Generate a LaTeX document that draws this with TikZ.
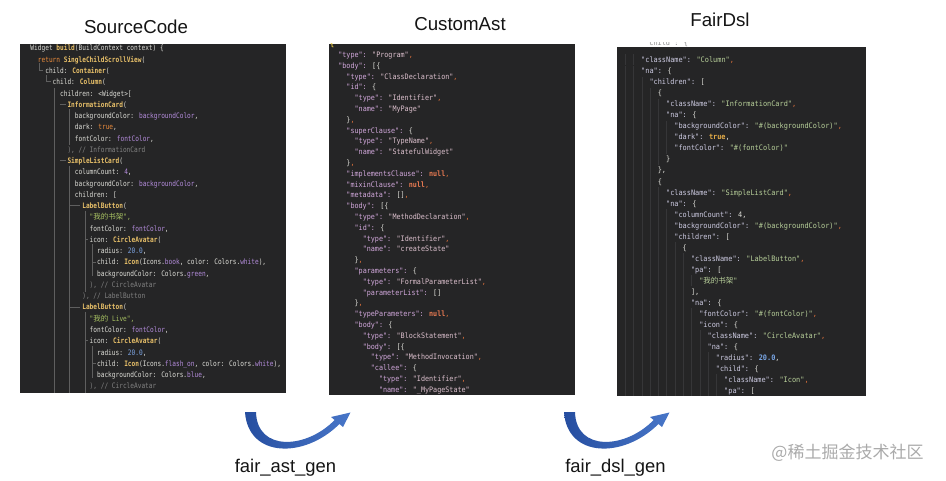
\documentclass[tikz,border=0pt]{standalone}
\usepackage{fontspec}
\setmainfont{Liberation Sans}
\newfontfamily\cjkf{Noto Sans CJK SC}
\newfontfamily\codeA[FakeStretch=0.82,Ligatures=TeXOff]{DejaVu Sans Mono}
\newfontfamily\codeB[FakeStretch=0.90,Ligatures=TeXOff]{DejaVu Sans Mono}
\newfontfamily\codeC[FakeStretch=0.92,Ligatures=TeXOff]{DejaVu Sans Mono}
\definecolor{panelbg}{RGB}{37,37,38}
\definecolor{cfg}{RGB}{222,222,216}
\definecolor{cyel}{RGB}{232,192,105}
\definecolor{corg}{RGB}{236,140,60}
\definecolor{cpur}{RGB}{180,140,220}
\definecolor{ccom}{RGB}{130,130,130}
\definecolor{cstr}{RGB}{168,194,98}
\definecolor{cnum}{RGB}{125,165,228}
\definecolor{cguide}{RGB}{95,95,95}
\definecolor{jkey}{RGB}{210,168,220}
\definecolor{jstr}{RGB}{220,192,205}
\definecolor{jnull}{RGB}{232,122,82}
\definecolor{jcom}{RGB}{225,115,60}
\definecolor{jbrace}{RGB}{235,205,70}
\definecolor{rkey}{RGB}{205,203,226}
\definecolor{rstr}{RGB}{184,208,154}
\definecolor{rtrue}{RGB}{228,172,72}
\definecolor{rnum}{RGB}{122,168,232}
\definecolor{rguide}{RGB}{54,54,56}
\definecolor{cutgray}{RGB}{140,140,140}
\definecolor{arrowdark}{RGB}{38,78,160}
\definecolor{arrowlight}{RGB}{72,118,200}
\definecolor{wmark}{RGB}{170,170,170}
\definecolor{titlecol}{RGB}{20,20,20}
% colour helpers
\newcommand\cdY[1]{\textcolor{cyel}{\bfseries #1}}
\newcommand\cdO[1]{\textcolor{corg}{#1}}
\newcommand\cdP[1]{\textcolor{cpur}{#1}}
\newcommand\cdC[1]{\textcolor{ccom}{#1}}
\newcommand\cdS[1]{\textcolor{cstr}{#1}}
\newcommand\cdN[1]{\textcolor{cnum}{#1}}
\newcommand\jK[1]{\textcolor{jkey}{#1}}
\newcommand\jS[1]{\textcolor{jstr}{#1}}
\newcommand\jN[1]{\textcolor{jnull}{\bfseries #1}}
\newcommand\jO[1]{\textcolor{jcom}{#1}}
\newcommand\rK[1]{\textcolor{rkey}{#1}}
\newcommand\rS[1]{\textcolor{rstr}{#1}}
\newcommand\rT[1]{\textcolor{rtrue}{\bfseries #1}}
\newcommand\rN[1]{\textcolor{rnum}{\bfseries #1}}
\newcounter{cdl}
\newcommand\cdLA[3]{\stepcounter{cdl}\node[codeL] (t\the\value{cdl}) at ({30.3+3.7*#1},{51+11.26*(#2-1)}) {#3};}
\newcommand\cdMA[3]{\stepcounter{cdl}\node[codeM] (t\the\value{cdl}) at ({330+4.07*#1},{57.5+10.8*(#2-2)}) {#3};}
\newcommand\cdRA[3]{\stepcounter{cdl}\node[codeR] (t\the\value{cdl}) at ({641+4.15*#1},{62.7+11.03*(#2-1)}) {#3};}
\newcommand\ycL[1]{(48+11.26*(#1-1))}
\begin{document}
\begin{tikzpicture}[x=1pt,y=-1pt,
  panel/.style={anchor=north west, fill=panelbg, draw=none, inner sep=0pt, outer sep=0pt},
  codeL/.style={anchor=base west, inner sep=0pt, text=cfg, font=\codeA\fontsize{7.5}{9}\selectfont},
  codeM/.style={anchor=base west, inner sep=0pt, text=cfg, font=\codeB\fontsize{7.5}{9}\selectfont},
  codeR/.style={anchor=base west, inner sep=0pt, text=cfg, font=\codeC\fontsize{7.5}{9}\selectfont},
  guideL/.style={draw=cguide, line width=0.7pt},
  guideR/.style={draw=rguide, line width=0.6pt},
  title/.style={anchor=base, inner sep=0pt, text=titlecol, font=\fontsize{18.7}{22}\selectfont},
  steplabel/.style={anchor=base, inner sep=0pt, text=titlecol, font=\fontsize{18.4}{22}\selectfont},
  pics/crescent/.style={code={
    \shade[left color=arrowdark, right color=arrowlight]
      (245,412) .. controls (248,458) and (304.4,459) .. (339.4,424)
      -- (343,427) -- (350.5,412.5) -- (331,417) -- (334.6,420)
      .. controls (306.6,449) and (257,452) .. (256,412) -- cycle;
  }}
]
\useasboundingbox (0,0) rectangle (946,481);
\fill[white] (0,0) rectangle (946,481);

% titles
\node[title] (tSrc) at (136,34) {SourceCode};
\node[title] (tAst) at (460,30.5) {CustomAst};
\node[title] (tDsl) at (720,27) {FairDsl};

% panels
\node[panel, minimum width=266pt, minimum height=349pt] (src) at (20,44) {};
\node[panel, minimum width=246pt, minimum height=351pt] (ast) at (329,44) {};
\node[panel, minimum width=249pt, minimum height=349pt] (dsl) at (617,47) {};

% ---------------- left panel: Dart source ----------------
\begin{scope}
\clip (src.north west) rectangle (src.south east);
\draw[guideL] (39,{\ycL{2}+4}) |- (43,{\ycL{3}});
\draw[guideL] (46.5,{\ycL{3}+4}) |- (50.5,{\ycL{4}});
\draw[guideL] (54,{\ycL{5}-5}) -- (54,393);
\draw[guideL] (60,{\ycL{6}}) -- (66,{\ycL{6}});
\draw[guideL] (60,{\ycL{11}}) -- (66,{\ycL{11}});
\draw[guideL] (69.5,{\ycL{6}+5}) -- (69.5,{\ycL{10}-4});
\draw[guideL] (69.5,{\ycL{11}+5}) -- (69.5,393);
\draw[guideL] (69.5,{\ycL{15}}) -- (80,{\ycL{15}});
\draw[guideL] (69.5,{\ycL{24}}) -- (80,{\ycL{24}});
\draw[guideL] (85,{\ycL{15}+5}) -- (85,{\ycL{23}-4});
\draw[guideL] (85,{\ycL{18}}) -- (88,{\ycL{18}});
\draw[guideL] (92.5,{\ycL{18}+5}) -- (92.5,{\ycL{21}+3});
\draw[guideL] (92.5,{\ycL{20}}) -- (96,{\ycL{20}});
\draw[guideL] (85,{\ycL{24}+5}) -- (85,393);
\draw[guideL] (85,{\ycL{27}}) -- (88,{\ycL{27}});
\draw[guideL] (92.5,{\ycL{27}+5}) -- (92.5,{\ycL{30}+3});
\draw[guideL] (92.5,{\ycL{29}}) -- (96,{\ycL{29}});
\cdLA{0}{1}{Widget \cdY{build}(BuildContext context) \{}
\cdLA{2}{2}{\cdO{return} \cdY{SingleChildScrollView}(}
\cdLA{4}{3}{child: \cdY{Container}(}
\cdLA{6}{4}{child: \cdY{Column}(}
\cdLA{8}{5}{children: <Widget>[}
\cdLA{10}{6}{\cdY{InformationCard}(}
\cdLA{12}{7}{backgroundColor: \cdP{backgroundColor},}
\cdLA{12}{8}{dark: \cdO{true},}
\cdLA{12}{9}{fontColor: \cdP{fontColor},}
\cdLA{10}{10}{\cdC{), // InformationCard}}
\cdLA{10}{11}{\cdY{SimpleListCard}(}
\cdLA{12}{12}{columnCount: \cdP{4},}
\cdLA{12}{13}{backgroundColor: \cdP{backgroundColor},}
\cdLA{12}{14}{children: [}
\cdLA{14}{15}{\cdY{LabelButton}(}
\cdLA{16}{16}{\cdS{"{\cjkf 我的书架}",}}
\cdLA{16}{17}{fontColor: \cdP{fontColor},}
\cdLA{16}{18}{icon: \cdY{CircleAvatar}(}
\cdLA{18}{19}{radius: \cdN{20.0},}
\cdLA{18}{20}{child: \cdY{Icon}(Icons.\cdP{book}, color: Colors.\cdP{white}),}
\cdLA{18}{21}{backgroundColor: Colors.\cdP{green},}
\cdLA{16}{22}{\cdC{), // CircleAvatar}}
\cdLA{14}{23}{\cdC{), // LabelButton}}
\cdLA{14}{24}{\cdY{LabelButton}(}
\cdLA{16}{25}{\cdS{"{\cjkf 我的} Live",}}
\cdLA{16}{26}{fontColor: \cdP{fontColor},}
\cdLA{16}{27}{icon: \cdY{CircleAvatar}(}
\cdLA{18}{28}{radius: \cdN{20.0},}
\cdLA{18}{29}{child: \cdY{Icon}(Icons.\cdP{flash\_on}, color: Colors.\cdP{white}),}
\cdLA{18}{30}{backgroundColor: Colors.\cdP{blue},}
\cdLA{16}{31}{\cdC{), // CircleAvatar}}
\end{scope}

% ---------------- middle panel: AST json ----------------
\begin{scope}
\clip (ast.north west) rectangle (ast.south east);
\cdMA{0}{1}{\textcolor{jbrace}{\bfseries\{}}
\cdMA{2}{2}{\jK{"type":} \jS{"Program"}\jO{,}}
\cdMA{2}{3}{\jK{"body":} [\{}
\cdMA{4}{4}{\jK{"type":} \jS{"ClassDeclaration"}\jO{,}}
\cdMA{4}{5}{\jK{"id":} \{}
\cdMA{6}{6}{\jK{"type":} \jS{"Identifier"}\jO{,}}
\cdMA{6}{7}{\jK{"name":} \jS{"MyPage"}}
\cdMA{4}{8}{\}\jO{,}}
\cdMA{4}{9}{\jK{"superClause":} \{}
\cdMA{6}{10}{\jK{"type":} \jS{"TypeName"}\jO{,}}
\cdMA{6}{11}{\jK{"name":} \jS{"StatefulWidget"}}
\cdMA{4}{12}{\}\jO{,}}
\cdMA{4}{13}{\jK{"implementsClause":} \jN{null}\jO{,}}
\cdMA{4}{14}{\jK{"mixinClause":} \jN{null}\jO{,}}
\cdMA{4}{15}{\jK{"metadata":} []\jO{,}}
\cdMA{4}{16}{\jK{"body":} [\{}
\cdMA{6}{17}{\jK{"type":} \jS{"MethodDeclaration"}\jO{,}}
\cdMA{6}{18}{\jK{"id":} \{}
\cdMA{8}{19}{\jK{"type":} \jS{"Identifier"}\jO{,}}
\cdMA{8}{20}{\jK{"name":} \jS{"createState"}}
\cdMA{6}{21}{\}\jO{,}}
\cdMA{6}{22}{\jK{"parameters":} \{}
\cdMA{8}{23}{\jK{"type":} \jS{"FormalParameterList"}\jO{,}}
\cdMA{8}{24}{\jK{"parameterList":} []}
\cdMA{6}{25}{\}\jO{,}}
\cdMA{6}{26}{\jK{"typeParameters":} \jN{null}\jO{,}}
\cdMA{6}{27}{\jK{"body":} \{}
\cdMA{8}{28}{\jK{"type":} \jS{"BlockStatement"}\jO{,}}
\cdMA{8}{29}{\jK{"body":} [\{}
\cdMA{10}{30}{\jK{"type":} \jS{"MethodInvocation"}\jO{,}}
\cdMA{10}{31}{\jK{"callee":} \{}
\cdMA{12}{32}{\jK{"type":} \jS{"Identifier"}\jO{,}}
\cdMA{12}{33}{\jK{"name":} \jS{"\_MyPageState"}}
\end{scope}

% ---------------- right panel: DSL json ----------------
\begin{scope}
\clip (617,42.5) rectangle (866,47);
\node[codeR, text=cutgray] (tcut) at (645,46) {"child": \{};
\end{scope}
\begin{scope}
\clip (dsl.north west) rectangle (dsl.south east);
\foreach \ln/\ind in {1/0,2/0,3/2,4/4,5/6,6/6,7/8,8/8,9/8,10/6,11/4,12/4,13/6,14/6,15/8,16/8,17/8,18/10,19/12,20/12,21/14,22/12,23/12,24/14,25/14,26/16,27/16,28/18,29/18,30/20,31/20}{
  \pgfmathtruncatemacro\lim{\ind-2}
  \foreach \c in {-4,-2,...,\lim}{
    \draw[guideR] ({641+4.15*\c+0.8},{60+11.03*(\ln-1)-5.5}) -- ({641+4.15*\c+0.8},{60+11.03*(\ln-1)+5.5});
  }
}
\cdRA{0}{1}{\rK{"className":} \rS{"Column"}\jO{,}}
\cdRA{0}{2}{\rK{"na":} \{}
\cdRA{2}{3}{\rK{"children":} [}
\cdRA{4}{4}{\{}
\cdRA{6}{5}{\rK{"className":} \rS{"InformationCard"}\jO{,}}
\cdRA{6}{6}{\rK{"na":} \{}
\cdRA{8}{7}{\rK{"backgroundColor":} \rS{"\#(backgroundColor)"}\jO{,}}
\cdRA{8}{8}{\rK{"dark":} \rT{true},}
\cdRA{8}{9}{\rK{"fontColor":} \rS{"\#(fontColor)"}}
\cdRA{6}{10}{\}}
\cdRA{4}{11}{\},}
\cdRA{4}{12}{\{}
\cdRA{6}{13}{\rK{"className":} \rS{"SimpleListCard"}\jO{,}}
\cdRA{6}{14}{\rK{"na":} \{}
\cdRA{8}{15}{\rK{"columnCount":} 4,}
\cdRA{8}{16}{\rK{"backgroundColor":} \rS{"\#(backgroundColor)"}\jO{,}}
\cdRA{8}{17}{\rK{"children":} [}
\cdRA{10}{18}{\{}
\cdRA{12}{19}{\rK{"className":} \rS{"LabelButton"}\jO{,}}
\cdRA{12}{20}{\rK{"pa":} [}
\cdRA{14}{21}{\rS{"{\cjkf 我的书架}"}}
\cdRA{12}{22}{],}
\cdRA{12}{23}{\rK{"na":} \{}
\cdRA{14}{24}{\rK{"fontColor":} \rS{"\#(fontColor)"}\jO{,}}
\cdRA{14}{25}{\rK{"icon":} \{}
\cdRA{16}{26}{\rK{"className":} \rS{"CircleAvatar"}\jO{,}}
\cdRA{16}{27}{\rK{"na":} \{}
\cdRA{18}{28}{\rK{"radius":} \rN{20.0},}
\cdRA{18}{29}{\rK{"child":} \{}
\cdRA{20}{30}{\rK{"className":} \rS{"Icon"}\jO{,}}
\cdRA{20}{31}{\rK{"pa":} [}
\end{scope}

% ---------------- curved arrows and labels ----------------
\pic (arrA) at (0,0) {crescent};
\pic (arrB) at (319,0) {crescent};
\node[steplabel] (lAst) at (285.5,472) {fair\_ast\_gen};
\node[steplabel] (lDsl) at (615.5,472) {fair\_dsl\_gen};

% watermark
\node[inner sep=0pt, text=wmark, font=\cjkf\fontsize{17}{20}\selectfont] (wm) at (847.5,453) {@稀土掘金技术社区};
\end{tikzpicture}
\end{document}
